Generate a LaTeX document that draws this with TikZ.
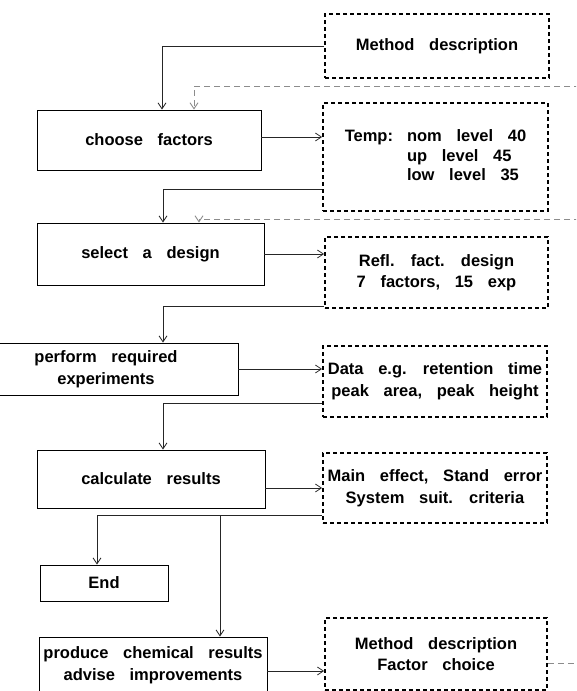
\documentclass[tikz,border=0pt]{standalone}
\usepackage{fontspec}
\setmainfont{Liberation Sans}[WordSpace=3.2]
\usetikzlibrary{arrows.meta}

\begin{document}
\begin{tikzpicture}[x=1pt,y=-1pt,
  >={Straight Barb[length=6pt,width=8pt]},
  every node/.style={font=\bfseries\fontsize{16.5}{21.5}\selectfont, inner sep=1pt, align=center},
  stepbox/.style={draw=black, line width=0.9pt, rectangle},
  notebox/.style={draw=black, line width=1.8pt, dash pattern=on 4pt off 3pt, rectangle},
  link/.style={draw=black!85, line width=0.8pt},
  fb/.style={draw=black!45, line width=0.9pt, dash pattern=on 6pt off 4pt},
]
\useasboundingbox (0,0) rectangle (576,691);
\clip (0,0) rectangle (576,691);

% process steps (left column)
\node[stepbox, minimum width=224pt, minimum height=60pt] (cf)   at (149,140)   {choose factors};
\node[stepbox, minimum width=227pt, minimum height=62pt] (sd)   at (150.5,254) {select a design};
\node[stepbox, minimum width=264pt, minimum height=52pt] (pre)  at (106,369)   {perform required\\experiments};
\node[stepbox, minimum width=228pt, minimum height=58pt] (calc) at (151,479)   {calculate results};
\node[stepbox, minimum width=128pt, minimum height=36pt] (endbox) at (104,583) {End};
\node[stepbox, minimum width=228pt, minimum height=56pt] (prod) at (153,665)   {produce chemical results\\advise improvements};

% information boxes (right column)
\node[notebox, minimum width=224pt, minimum height=64pt]  (md1)  at (437,46)    {Method description};
\node[notebox, minimum width=225pt, minimum height=108pt] (temp) at (435.5,157)
  {\def\arraystretch{0.93}\begin{tabular}{@{}l@{\hspace{14pt}}l@{}}Temp: & nom level 40\\ & up level 45\\ & low level 35\end{tabular}};
\node[notebox, minimum width=223pt, minimum height=71pt]  (refl) at (436.5,272.5) {Refl. fact. design\\7 factors, 15 exp};
\node[notebox, minimum width=224pt, minimum height=71pt]  (data) at (435,381.5) {Data e.g. retention time\\peak area, peak height};
\node[notebox, minimum width=224pt, minimum height=70pt]  (main) at (435,488)   {Main effect, Stand error\\System suit. criteria};
\node[notebox, minimum width=222pt, minimum height=72pt]  (bot)  at (436,654)   {Method description\\Factor choice};

% feedback line ends beyond the right margin
\coordinate (fbA) at (580,86);
\coordinate (fbB) at (580,219);
\coordinate (fbC) at (580,663);

% information flowing into the steps
\draw[link,->] (md1.west) -| ([xshift=13pt]cf.north);
\draw[fb,->] (fbA) -| ([xshift=45pt]cf.north);
\draw[link,->] ([yshift=-32pt]temp.west) -| ([xshift=12.5pt]sd.north);
\draw[fb,->] (fbB) -| ([xshift=48.5pt]sd.north);
\draw[link,->] ([yshift=-33.5pt]refl.west) -| ([xshift=57pt]pre.north);
\draw[link,->] ([yshift=-21.5pt]data.west) -| ([xshift=12pt]calc.north);

% results of each step
\draw[link,->] ([yshift=3pt]cf.east) -- ([yshift=3pt]cf.east -| temp.west);
\draw[link,->] (sd.east) -- (sd.east -| refl.west);
\draw[link,->] (pre.east) -- (pre.east -| data.west);
\draw[link,->] ([yshift=-9pt]calc.east) -- ([yshift=-9pt]calc.east -| main.west);
\draw[link,->] ([yshift=-6pt]prod.east) -- ([yshift=-6pt]prod.east -| bot.west);

% decision after the calculation
\coordinate (mw) at ([yshift=-27pt]main.west);
\coordinate (pn) at ([xshift=67pt]prod.north);
\draw[link,->] (mw) -| ([xshift=-7pt]endbox.north);
\draw[link,->] (mw -| pn) -- (pn);

% feedback from the final description
\draw[fb] ([yshift=-9pt]bot.east) -- (fbC);
\end{tikzpicture}
\end{document}
